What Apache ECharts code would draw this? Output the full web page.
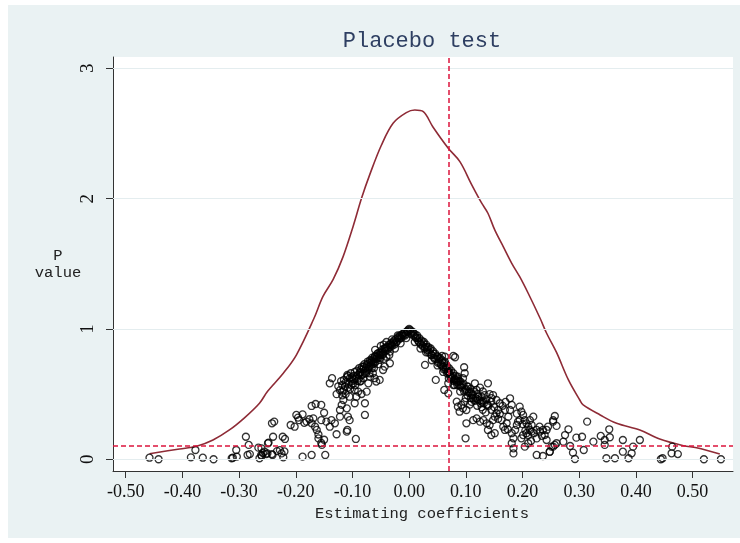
<!DOCTYPE html>
<html><head><meta charset="utf-8">
<script src="https://cdn.jsdelivr.net/npm/echarts@6/dist/echarts.min.js"></script>
<style>html,body{margin:0;padding:0;background:#fff}#c{width:740px;height:543px}</style>
</head><body><div id="c"></div>
<script>
// Placebo estimates: [coefficient, p value]
const placeboPoints = [
 [-0.458,0.012],[-0.442,0.0],[-0.385,0.015],[-0.377,0.071],[-0.364,0.012],[-0.345,0.0],[-0.313,0.008],[-0.311,0.012],
 [-0.305,0.071],[-0.304,0.02],[-0.288,0.173],[-0.283,0.11],[-0.285,0.033],[-0.281,0.04],[-0.266,0.089],[-0.264,0.008],
 [-0.261,0.033],[-0.258,0.048],[-0.255,0.058],[-0.252,0.04],[-0.248,0.128],[-0.242,0.276],[-0.242,0.04],
 [-0.2605,0.084],[-0.26,0.025],[-0.25,0.045],[-0.249,0.123],[-0.241,0.033],[-0.24,0.173],[-0.238,0.289],[-0.233,0.063],
 [-0.228,0.07],[-0.22,0.06],[-0.225,0.045],[-0.222,0.015],[-0.223,0.173],[-0.219,0.156],[-0.209,0.263],[-0.202,0.25],
 [-0.199,0.34],[-0.194,0.30],[-0.196,0.32],[-0.188,0.345],[-0.185,0.28],[-0.188,0.02],[-0.181,0.289],[-0.176,0.307],
 [-0.172,0.276],[-0.169,0.314],[-0.166,0.25],[-0.163,0.225],[-0.172,0.409],[-0.165,0.424],[-0.155,0.417],[-0.172,0.033],
 [-0.16,0.19],[-0.16,0.16],[-0.154,0.11],[-0.155,0.125],[-0.15,0.15],[-0.155,0.30],[-0.15,0.357],[-0.146,0.289],
 [-0.14,0.25],[-0.137,0.30],[-0.131,0.276],[-0.128,0.192],[-0.148,0.033],[-0.14,0.583],[-0.136,0.622],[-0.122,0.378],
 [-0.119,0.417],[-0.116,0.455],[-0.118,0.519],[-0.113,0.557],[-0.122,0.327],[-0.11,0.391],[-0.108,0.327],[-0.105,0.30],
 [-0.109,0.225],[-0.109,0.647],[-0.105,0.48],[-0.102,0.57],[-0.096,0.532],[-0.093,0.48],[-0.096,0.43],[-0.09,0.519],
 [-0.094,0.156],[-0.087,0.596],[-0.084,0.647],[-0.081,0.622],[-0.076,0.66],[-0.078,0.43],[-0.084,0.501],[-0.075,0.519],
 [-0.072,0.583],[-0.069,0.634],[-0.064,0.66],[-0.061,0.622],[-0.058,0.596],[-0.052,0.609],[-0.066,0.698],[-0.061,0.737],
 [-0.061,0.787],[-0.055,0.813],[-0.052,0.762],[-0.043,0.852],[-0.04,0.787],[-0.034,0.826],[-0.043,0.711],[-0.046,0.685],
 [-0.031,0.877],[-0.034,0.737],[-0.108,0.64],[-0.078,0.34],[-0.11,0.212],
 [-0.128,0.50],[-0.125,0.56],[-0.122,0.53],[-0.12,0.60],[-0.118,0.57],[-0.115,0.61],[-0.112,0.59],[-0.11,0.63],
 [-0.108,0.55],[-0.105,0.62],[-0.103,0.66],[-0.1,0.60],[-0.098,0.64],[-0.096,0.67],[-0.094,0.62],[-0.092,0.68],
 [-0.09,0.65],[-0.088,0.70],[-0.086,0.67],[-0.083,0.71],[-0.081,0.69],[-0.079,0.73],[-0.077,0.68],[-0.075,0.72],
 [-0.073,0.75],[-0.071,0.71],[-0.069,0.76],[-0.067,0.74],[-0.065,0.78],[-0.063,0.75],[-0.06,0.79],[-0.058,0.77],
 [-0.056,0.81],[-0.054,0.78],[-0.052,0.82],[-0.05,0.80],[-0.048,0.84],[-0.046,0.81],[-0.044,0.85],[-0.042,0.83],
 [-0.04,0.86],[-0.038,0.84],[-0.036,0.88],[-0.034,0.86],[-0.032,0.89],[-0.03,0.87],[-0.028,0.90],[-0.026,0.88],
 [-0.024,0.92],[-0.022,0.90],[-0.02,0.93],[-0.018,0.92],[-0.016,0.95],[-0.014,0.93],[-0.012,0.96],[-0.01,0.95],
 [-0.008,0.97],[-0.006,0.96],[-0.004,0.98],[-0.002,0.99],[0.0,1.0],
 [-0.07,0.66],[-0.062,0.70],[-0.085,0.60],[-0.095,0.57],[-0.055,0.73],[-0.045,0.77],[-0.035,0.80],[-0.025,0.85],
 [-0.015,0.89],[-0.005,0.93],[-0.03,0.92],[-0.04,0.90],[-0.05,0.87],[-0.06,0.84],[-0.02,0.95],[-0.045,0.88],
 [-0.118,0.49],[-0.115,0.53],[-0.112,0.50],[-0.107,0.58],[-0.104,0.54],[-0.101,0.63],[-0.099,0.58],[-0.097,0.61],
 [-0.093,0.64],[-0.091,0.60],[-0.089,0.62],[-0.087,0.66],[-0.085,0.69],[-0.082,0.65],[-0.08,0.71],[-0.078,0.66],
 [-0.076,0.70],[-0.074,0.73],[-0.072,0.69],[-0.07,0.74],[-0.068,0.72],[-0.066,0.76],[-0.064,0.73],[-0.062,0.77],
 [-0.059,0.75],[-0.057,0.79],[-0.053,0.80],[-0.051,0.78],[-0.049,0.82],[-0.047,0.80],[-0.041,0.85],[-0.037,0.86],
 [-0.033,0.88],[-0.029,0.89],[-0.027,0.91],[-0.023,0.90],[-0.019,0.94],[-0.017,0.93],[-0.013,0.95],[-0.009,0.97],
 [-0.007,0.95],[-0.003,0.98],
 [0.002,0.99],[0.004,0.97],[0.006,0.98],[0.008,0.95],[0.01,0.96],[0.012,0.93],[0.014,0.95],[0.016,0.91],
 [0.018,0.93],[0.02,0.89],[0.022,0.91],[0.024,0.87],[0.026,0.90],[0.028,0.86],[0.03,0.88],[0.032,0.84],
 [0.034,0.86],[0.036,0.82],[0.038,0.85],[0.04,0.80],[0.042,0.83],[0.044,0.78],[0.046,0.81],[0.048,0.77],
 [0.05,0.79],[0.052,0.75],[0.054,0.78],[0.056,0.73],[0.058,0.76],[0.06,0.71],[0.062,0.74],[0.064,0.69],
 [0.066,0.72],[0.068,0.67],[0.07,0.70],[0.072,0.65],[0.074,0.68],[0.076,0.63],[0.078,0.66],[0.08,0.61],
 [0.082,0.64],[0.084,0.59],[0.086,0.62],[0.088,0.57],[0.09,0.60],[0.093,0.55],[0.096,0.58],[0.099,0.53],
 [0.102,0.56],[0.105,0.51],[0.108,0.54],[0.111,0.49],[0.114,0.52],[0.117,0.47],[0.12,0.50],[0.124,0.45],
 [0.128,0.48],[0.132,0.43],[0.136,0.46],[0.14,0.41],[0.145,0.44],[0.15,0.40],
 [0.01,0.90],[0.02,0.85],[0.03,0.82],[0.04,0.76],[0.05,0.72],[0.06,0.67],[0.07,0.62],[0.08,0.57],
 [0.09,0.52],[0.10,0.47],[0.11,0.44],[0.12,0.41],[0.13,0.38],
 [0.003,0.96],[0.007,0.97],[0.011,0.94],[0.015,0.93],[0.017,0.90],[0.021,0.88],[0.025,0.89],[0.027,0.85],
 [0.031,0.86],[0.033,0.82],[0.037,0.84],[0.039,0.80],[0.043,0.81],[0.045,0.77],[0.049,0.79],[0.051,0.74],
 [0.053,0.77],[0.057,0.72],[0.059,0.74],[0.061,0.69],[0.065,0.70],[0.067,0.66],[0.071,0.67],[0.073,0.63],
 [0.077,0.64],[0.079,0.60],[0.083,0.61],[0.085,0.57],[0.087,0.60],[0.091,0.56],[0.094,0.57],[0.097,0.52],
 [0.10,0.54],[0.103,0.49],[0.106,0.52],[0.109,0.47],[0.112,0.50],[0.115,0.45],[0.121,0.46],[0.126,0.43],
 [0.131,0.45],[0.138,0.42],
 [0.028,0.724],[0.047,0.609],[0.058,0.793],[0.063,0.787],[0.078,0.793],[0.081,0.783],[0.063,0.749],[0.066,0.711],
 [0.069,0.672],[0.062,0.532],[0.069,0.506],[0.069,0.583],[0.075,0.622],[0.078,0.57],[0.081,0.609],[0.086,0.634],
 [0.089,0.596],[0.095,0.622],[0.098,0.66],[0.097,0.706],[0.084,0.442],[0.086,0.404],[0.089,0.365],[0.092,0.417],
 [0.095,0.391],[0.101,0.378],[0.098,0.442],[0.101,0.276],[0.0995,0.161],[0.104,0.557],[0.11,0.506],[0.113,0.468],
 [0.116,0.583],[0.119,0.532],[0.122,0.48],[0.128,0.442],[0.133,0.493],[0.139,0.583],[0.137,0.417],[0.113,0.30],
 [0.119,0.314],[0.125,0.289],[0.131,0.30],[0.137,0.276],[0.139,0.225],[0.145,0.186],[0.151,0.20],[0.142,0.263],
 [0.148,0.30],[0.151,0.327],[0.154,0.353],[0.157,0.378],[0.16,0.43],[0.154,0.455],[0.148,0.493],[0.163,0.30],
 [0.166,0.25],[0.169,0.225],[0.172,0.276],[0.175,0.327],[0.178,0.378],[0.181,0.417],[0.178,0.468],[0.169,0.378],
 [0.181,0.20],[0.184,0.161],[0.187,0.225],[0.184,0.084],[0.181,0.123],[0.19,0.263],[0.192,0.289],[0.195,0.30],
 [0.195,0.404],[0.198,0.365],[0.201,0.34],[0.204,0.30],[0.207,0.276],[0.21,0.25],[0.213,0.225],[0.216,0.263],
 [0.219,0.327],[0.213,0.30],[0.207,0.20],[0.201,0.186],[0.198,0.161],[0.21,0.186],[0.216,0.212],[0.225,0.225],
 [0.231,0.212],[0.236,0.225],[0.239,0.186],[0.2425,0.225],[0.245,0.25],[0.2425,0.148],[0.21,0.123],[0.204,0.097],
 [0.225,0.033],[0.236,0.025],[0.248,0.058],[0.254,0.097],[0.254,0.30],[0.184,0.045],
 [0.125,0.55],[0.13,0.52],[0.142,0.50],[0.145,0.47],[0.118,0.45],[0.107,0.42],[0.128,0.40],[0.135,0.36],
 [0.145,0.38],[0.16,0.35],[0.165,0.41],[0.17,0.44],[0.157,0.31],[0.174,0.23],[0.19,0.35],[0.20,0.27],
 [0.205,0.22],[0.22,0.20],[0.225,0.16],[0.215,0.14],[0.23,0.25],[0.234,0.18],
 [0.257,0.332],[0.254,0.289],[0.26,0.256],[0.251,0.097],[0.257,0.11],[0.26,0.123],[0.248,0.058],[0.272,0.135],
 [0.275,0.186],[0.281,0.23],[0.284,0.102],[0.289,0.051],[0.2925,0.002],[0.295,0.166],[0.305,0.173],[0.308,0.071],
 [0.314,0.289],[0.325,0.135],[0.338,0.179],[0.345,0.148],[0.345,0.11],[0.348,0.008],[0.353,0.23],[0.354,0.169],
 [0.363,0.008],[0.377,0.148],[0.377,0.058],[0.387,0.008],[0.3925,0.046],[0.395,0.097],[0.407,0.148],[0.444,0.0],
 [0.447,0.008],[0.463,0.046],[0.464,0.097],[0.474,0.04],[0.52,0.0],[0.55,0.0]
];
// Kernel density of placebo coefficients
const kdX = [-0.458,-0.405,-0.375,-0.346,-0.317,-0.29,-0.264,-0.25,-0.222,-0.199,-0.168,-0.152,-0.134,-0.1165,-0.099,-0.084,-0.069,-0.049,-0.028,-0.005,0.01,0.025,0.042,0.069,0.0895,0.11,0.128,0.139,0.151,0.166,0.181,0.195,0.21,0.231,0.2425,0.26,0.281,0.301,0.307,0.337,0.366,0.407,0.442,0.484,0.507,0.548];
const kdY = [0.043,0.079,0.10,0.148,0.225,0.32,0.43,0.52,0.66,0.80,1.08,1.25,1.38,1.555,1.785,2.003,2.19,2.41,2.58,2.66,2.68,2.667,2.55,2.387,2.284,2.11,1.965,1.888,1.76,1.632,1.504,1.401,1.274,1.082,0.967,0.82,0.609,0.455,0.417,0.34,0.276,0.225,0.155,0.104,0.088,0.04];
const xTicks = [-0.5,-0.4,-0.3,-0.2,-0.1,0,0.1,0.2,0.3,0.4,0.5];
const yTicks = [0,1,2,3];
const trueCoef = 0.07;
const pThreshold = 0.1;

const chart = echarts.init(document.getElementById('c'), null, {renderer:'canvas'});
const monoFont = '"Liberation Mono", "DejaVu Sans Mono", monospace';
chart.setOption({
  animation:false,
  backgroundColor:'#ffffff',
  grid:{left:113, right:7, top:57, bottom:72, show:true, backgroundColor:'#ffffff', borderWidth:0},
  graphic:[
    {type:'rect', z:-100, shape:{x:8,y:5,width:732,height:533}, style:{fill:'#EAF2F3'}, silent:true},
    {type:'text', x:422, y:41, z:100, style:{text:'Placebo test', font:'22px '+monoFont, fill:'#2E3F62', textAlign:'center', textVerticalAlign:'middle'}},
    {type:'text', x:58, y:256, z:100, style:{text:'P', font:'15.5px '+monoFont, fill:'#222', textAlign:'center', textVerticalAlign:'middle'}},
    {type:'text', x:58, y:273, z:100, style:{text:'value', font:'15.5px '+monoFont, fill:'#222', textAlign:'center', textVerticalAlign:'middle'}},
    {type:'text', x:422, y:514, z:100, style:{text:'Estimating coefficients', font:'15.5px '+monoFont, fill:'#222', textAlign:'center', textVerticalAlign:'middle'}}
  ],
  xAxis:{
    type:'value', min:-0.5224, max:0.5713,
    axisLine:{show:true, onZero:false, lineStyle:{color:'#333', width:1}},
    axisTick:{show:true, length:7, customValues:xTicks, lineStyle:{color:'#333'}},
    axisLabel:{customValues:xTicks, formatter:v=>Number(v).toFixed(2), fontFamily:'"Liberation Serif", serif', fontSize:18, color:'#111', margin:12},
    splitLine:{show:false}
  },
  yAxis:{
    type:'value', min:-0.09, max:3.087,
    axisLine:{show:true, onZero:false, lineStyle:{color:'#333', width:1}},
    axisTick:{show:true, length:7, customValues:yTicks, lineStyle:{color:'#333'}},
    axisLabel:{customValues:yTicks, rotate:90, formatter:v=>String(Math.round(v)), fontFamily:'"Liberation Serif", serif', fontSize:19, color:'#111', margin:15},
    splitLine:{show:false}
  },
  series:[
    {type:'line', data:[], z:1, silent:true,
     markLine:{silent:true, symbol:['none','none'], label:{show:false}, animation:false,
       lineStyle:{color:'#E4EDEF', width:1.2, type:'solid'},
       data:yTicks.map(v=>({yAxis:v}))}},
    {type:'line', data:kdX.map((x,i)=>[x,kdY[i]]), z:3, showSymbol:false, smooth:0.35,
     lineStyle:{color:'#8E2B36', width:1.6}},
    {type:'scatter', data:placeboPoints, z:4, symbol:'circle', symbolSize:7,
     itemStyle:{color:'rgba(0,0,0,0)', borderColor:'#000', borderWidth:1.3}},
    {type:'line', data:[], z:5, silent:true,
     markLine:{silent:true, symbol:['none','none'], label:{show:false}, animation:false,
       lineStyle:{color:'#DC143C', width:1.5, type:[5,3]},
       data:[{xAxis:trueCoef},{yAxis:pThreshold}]}}
  ]
});
</script>
</body></html>
